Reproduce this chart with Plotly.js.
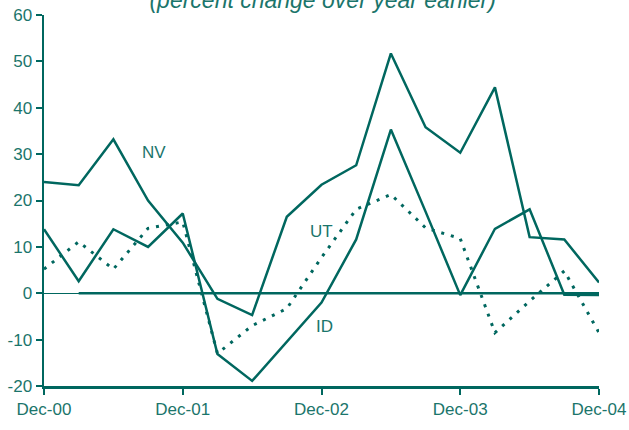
<!DOCTYPE html>
<html>
<head>
<meta charset="utf-8">
<script src="https://cdn.plot.ly/plotly-3.0.1.min.js"></script>
<style>
  html, body { margin: 0; padding: 0; background: #fff; }
  #chart { width: 629px; height: 430px; }
</style>
</head>
<body>
<div id="chart"></div>
<script>
// Quarterly observations, Dec-00 .. Dec-04
const quarters = ["Dec-00","Mar-01","Jun-01","Sep-01","Dec-01","Mar-02","Jun-02","Sep-02","Dec-02",
                  "Mar-03","Jun-03","Sep-03","Dec-03","Mar-04","Jun-04","Sep-04","Dec-04"];
const nvValues = [24.0, 23.3, 33.2, 20.0, 10.9, -1.2, -4.7, 16.5, 23.4, 27.6, 51.7, 35.8, 30.3, 44.4, 12.1, 11.6, 2.3];
const idValues = [13.8, 2.6, 13.8, 10.0, 17.2, -13.1, -18.9, -10.5, -2.0, 11.6, 35.3, 17.6, -0.4, 13.9, 18.1, -0.3, -0.4];
const utValues = [5.2, 11.1, 5.2, 14.0, 15.4, -13.0, -7.0, -3.3, 7.7, 18.1, 21.3, 14.1, 11.8, -8.5, -1.7, 4.8, -8.5];
const tickLabels = ["Dec-00", "Dec-01", "Dec-02", "Dec-03", "Dec-04"];
const tickIndex = [0, 4, 8, 12, 16];
const yTicks = [-20, -10, 0, 10, 20, 30, 40, 50, 60];
const yTickLabels = ["-20", "-10", "0", "10", "20", "30", "40", "50", "60"];

const teal = "#00675f";
const textTeal = "#1b756b";
const idx = quarters.map((q, i) => i);

const traces = [
  { x: idx, y: nvValues, name: "NV", type: "scatter", mode: "lines",
    line: { color: teal, width: 2.5 } },
  { x: idx, y: idValues, name: "ID", type: "scatter", mode: "lines",
    line: { color: teal, width: 2.5 } },
  { x: idx, y: utValues, name: "UT", type: "scatter", mode: "lines",
    line: { color: teal, width: 3, dash: "3px,7px" } }
];

const font = { family: "Liberation Sans, Arial, sans-serif", size: 17, color: textTeal };

const layout = {
  width: 629, height: 430,
  margin: { l: 44, r: 30, t: 15, b: 44, pad: 0 },
  paper_bgcolor: "#fff", plot_bgcolor: "#fff",
  showlegend: false,
  font: font,
  title: {
    text: "<i>(percent change over year earlier)</i>",
    font: { family: "Liberation Sans, Arial, sans-serif", size: 23, color: textTeal },
    x: 0.513, xanchor: "center", xref: "container",
    y: 1 - 7.5 / 430, yanchor: "bottom", yref: "container"
  },
  xaxis: {
    range: [0, 16], showgrid: false, zeroline: false,
    showline: true, linecolor: teal, linewidth: 2.5,
    ticks: "outside", ticklen: 6, tickwidth: 2, tickcolor: teal,
    tickvals: tickIndex, ticktext: tickLabels,
    tickfont: font
  },
  yaxis: {
    range: [-20, 60], showgrid: false,
    zeroline: true, zerolinecolor: teal, zerolinewidth: 1.2,
    showline: true, linecolor: teal, linewidth: 2.5,
    ticks: "outside", ticklen: 6, tickwidth: 2, tickcolor: teal,
    tickvals: yTicks, ticktext: yTickLabels, tickfont: font
  },
  shapes: [
    { type: "line", xref: "x", yref: "y", x0: 1, x1: 16, y0: 0, y1: 0,
      line: { color: teal, width: 2.5 }, layer: "below" }
  ],
  annotations: [
    { text: "NV", x: 3.17, y: 30.4, xref: "x", yref: "y", showarrow: false, font: font },
    { text: "UT", x: 8.0, y: 13.4, xref: "x", yref: "y", showarrow: false, font: font },
    { text: "ID", x: 8.1, y: -7.1, xref: "x", yref: "y", showarrow: false, font: font }
  ]
};

Plotly.newPlot("chart", traces, layout, { displayModeBar: false, staticPlot: true });
</script>
</body>
</html>
